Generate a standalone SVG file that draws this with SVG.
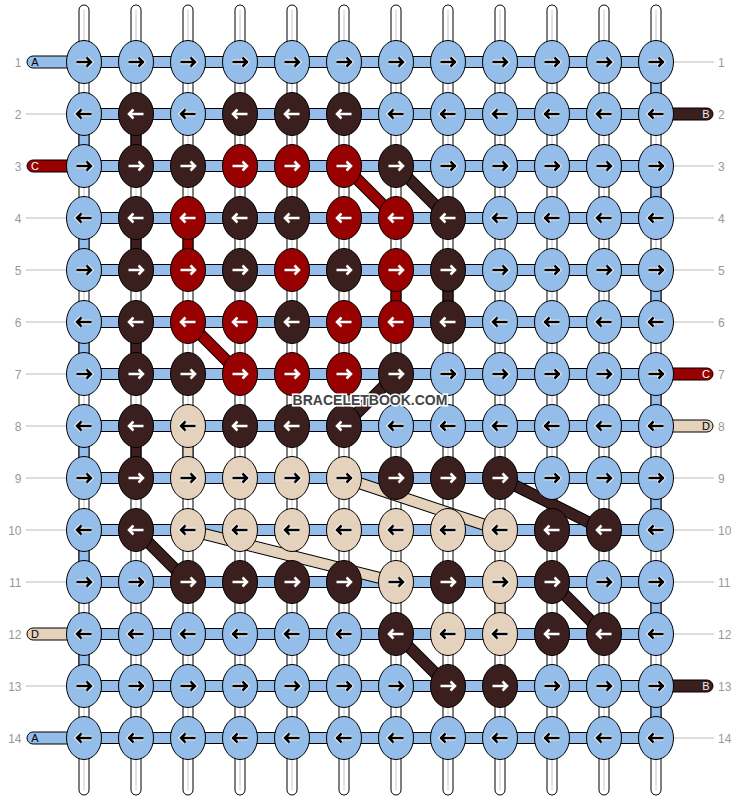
<svg xmlns="http://www.w3.org/2000/svg" xmlns:xlink="http://www.w3.org/1999/xlink" width="740" height="800" viewBox="0 0 740 800">
<style>
.L{fill:#95bde9}.D{fill:#3b1f1f}.R{fill:#990000}.T{fill:#e5d2bc}
ellipse{stroke:#000;stroke-width:1}
.vs{fill:#fff;stroke:#000;stroke-width:1}
.vc{stroke:#c8c8c8;stroke-width:1}
.hb,.seg,.tail{stroke:#000;stroke-width:1}
.ob{stroke:#000;stroke-width:12}
.iD{stroke:#3b1f1f;stroke-width:10}.iR{stroke:#990000;stroke-width:10}.iT{stroke:#e5d2bc;stroke-width:10}
.gl{stroke:#bbb;stroke-width:1}
.num{font-family:"Liberation Sans",Arial,sans-serif;font-size:12px;fill:#999}
.tl{font-family:"Liberation Sans",Arial,sans-serif;font-size:11px;text-anchor:middle}
.wm{font-family:"Liberation Sans",Arial,sans-serif;font-size:14px;font-weight:bold;fill:#444;stroke:#fff;stroke-width:3;paint-order:stroke;text-anchor:middle}
</style>
<defs>
<path id="ap" d="M-7.5,0H6.5M2.5,-4.5L7,0L2.5,4.5" fill="none"/>
<g id="rk"><use href="#ap" stroke="#fff" stroke-width="4.5"/><use href="#ap" stroke="#000" stroke-width="2.5"/></g>
<g id="rw"><use href="#ap" stroke="#fff" stroke-width="2.5"/></g>
<g id="lk" transform="scale(-1,1)"><use href="#ap" stroke="#fff" stroke-width="4.5"/><use href="#ap" stroke="#000" stroke-width="2.5"/></g>
<g id="lw" transform="scale(-1,1)"><use href="#ap" stroke="#fff" stroke-width="2.5"/></g>
</defs>
<g id="strands">
<rect class="vs" x="79" y="5" width="10" height="790" rx="5"/><line class="vc" x1="84" y1="10" x2="84" y2="790"/>
<rect class="vs" x="131" y="5" width="10" height="790" rx="5"/><line class="vc" x1="136" y1="10" x2="136" y2="790"/>
<rect class="vs" x="183" y="5" width="10" height="790" rx="5"/><line class="vc" x1="188" y1="10" x2="188" y2="790"/>
<rect class="vs" x="235" y="5" width="10" height="790" rx="5"/><line class="vc" x1="240" y1="10" x2="240" y2="790"/>
<rect class="vs" x="287" y="5" width="10" height="790" rx="5"/><line class="vc" x1="292" y1="10" x2="292" y2="790"/>
<rect class="vs" x="339" y="5" width="10" height="790" rx="5"/><line class="vc" x1="344" y1="10" x2="344" y2="790"/>
<rect class="vs" x="391" y="5" width="10" height="790" rx="5"/><line class="vc" x1="396" y1="10" x2="396" y2="790"/>
<rect class="vs" x="443" y="5" width="10" height="790" rx="5"/><line class="vc" x1="448" y1="10" x2="448" y2="790"/>
<rect class="vs" x="495" y="5" width="10" height="790" rx="5"/><line class="vc" x1="500" y1="10" x2="500" y2="790"/>
<rect class="vs" x="547" y="5" width="10" height="790" rx="5"/><line class="vc" x1="552" y1="10" x2="552" y2="790"/>
<rect class="vs" x="599" y="5" width="10" height="790" rx="5"/><line class="vc" x1="604" y1="10" x2="604" y2="790"/>
<rect class="vs" x="651" y="5" width="10" height="790" rx="5"/><line class="vc" x1="656" y1="10" x2="656" y2="790"/>
</g>
<g id="connectors">
<rect class="hb L" x="84" y="56.5" width="572" height="11"/>
<rect class="hb L" x="84" y="108.5" width="572" height="11"/>
<rect class="hb L" x="84" y="160.5" width="572" height="11"/>
<rect class="hb L" x="84" y="212.5" width="572" height="11"/>
<rect class="hb L" x="84" y="264.5" width="572" height="11"/>
<rect class="hb L" x="84" y="316.5" width="572" height="11"/>
<rect class="hb L" x="84" y="368.5" width="572" height="11"/>
<rect class="hb L" x="84" y="420.5" width="572" height="11"/>
<rect class="hb L" x="84" y="472.5" width="572" height="11"/>
<rect class="hb L" x="84" y="524.5" width="572" height="11"/>
<rect class="hb L" x="84" y="576.5" width="572" height="11"/>
<rect class="hb L" x="84" y="628.5" width="572" height="11"/>
<rect class="hb L" x="84" y="680.5" width="572" height="11"/>
<rect class="hb L" x="84" y="732.5" width="572" height="11"/>
<rect class="seg L" x="651" y="62" width="10" height="52"/>
<rect class="seg L" x="651" y="166" width="10" height="52"/>
<rect class="seg L" x="651" y="270" width="10" height="52"/>
<rect class="seg L" x="651" y="374" width="10" height="52"/>
<rect class="seg L" x="651" y="478" width="10" height="52"/>
<rect class="seg L" x="651" y="582" width="10" height="52"/>
<rect class="seg L" x="651" y="686" width="10" height="52"/>
<rect class="seg L" x="79" y="114" width="10" height="52"/>
<rect class="seg L" x="79" y="218" width="10" height="52"/>
<rect class="seg L" x="79" y="322" width="10" height="52"/>
<rect class="seg L" x="79" y="426" width="10" height="52"/>
<rect class="seg L" x="79" y="530" width="10" height="52"/>
<rect class="seg L" x="79" y="634" width="10" height="52"/>
<rect class="seg D" x="131" y="114" width="10" height="52"/>
<rect class="seg D" x="131" y="218" width="10" height="52"/>
<rect class="seg D" x="443" y="270" width="10" height="52"/>
<rect class="seg D" x="131" y="322" width="10" height="52"/>
<rect class="seg D" x="131" y="426" width="10" height="52"/>
<rect class="seg R" x="183" y="218" width="10" height="52"/>
<rect class="seg R" x="391" y="270" width="10" height="52"/>
<rect class="seg T" x="183" y="426" width="10" height="52"/>
<rect class="seg T" x="495" y="582" width="10" height="52"/>
<rect class="tail L" x="27" y="56" width="60" height="12" rx="6"/>
<rect class="tail R" x="27" y="160" width="60" height="12" rx="6"/>
<rect class="tail T" x="27" y="628" width="60" height="12" rx="6"/>
<rect class="tail L" x="27" y="732" width="60" height="12" rx="6"/>
<rect class="tail D" x="650" y="108" width="63" height="12" rx="6"/>
<rect class="tail R" x="650" y="368" width="63" height="12" rx="6"/>
<rect class="tail T" x="650" y="420" width="63" height="12" rx="6"/>
<rect class="tail D" x="650" y="680" width="63" height="12" rx="6"/>
<line class="ob" x1="396" y1="166" x2="448" y2="218"/><line class="iD" x1="396" y1="166" x2="448" y2="218"/>
<line class="ob" x1="344" y1="166" x2="396" y2="218"/><line class="iR" x1="344" y1="166" x2="396" y2="218"/>
<line class="ob" x1="188" y1="322" x2="240" y2="374"/><line class="iR" x1="188" y1="322" x2="240" y2="374"/>
<line class="ob" x1="396" y1="374" x2="344" y2="426"/><line class="iD" x1="396" y1="374" x2="344" y2="426"/>
<line class="ob" x1="344" y1="478" x2="500" y2="530"/><line class="iT" x1="344" y1="478" x2="500" y2="530"/>
<line class="ob" x1="500" y1="478" x2="604" y2="530"/><line class="iD" x1="500" y1="478" x2="604" y2="530"/>
<line class="ob" x1="188" y1="530" x2="396" y2="582"/><line class="iT" x1="188" y1="530" x2="396" y2="582"/>
<line class="ob" x1="136" y1="530" x2="188" y2="582"/><line class="iD" x1="136" y1="530" x2="188" y2="582"/>
<line class="ob" x1="552" y1="582" x2="604" y2="634"/><line class="iD" x1="552" y1="582" x2="604" y2="634"/>
<line class="ob" x1="396" y1="634" x2="448" y2="686"/><line class="iD" x1="396" y1="634" x2="448" y2="686"/>
</g>
<g id="knots">
<g id="k1-1"><ellipse class="L" cx="84" cy="62" rx="17.5" ry="21.5"/><use href="#rk" x="84" y="62"/></g>
<g id="k1-2"><ellipse class="L" cx="136" cy="62" rx="17.5" ry="21.5"/><use href="#rk" x="136" y="62"/></g>
<g id="k1-3"><ellipse class="L" cx="188" cy="62" rx="17.5" ry="21.5"/><use href="#rk" x="188" y="62"/></g>
<g id="k1-4"><ellipse class="L" cx="240" cy="62" rx="17.5" ry="21.5"/><use href="#rk" x="240" y="62"/></g>
<g id="k1-5"><ellipse class="L" cx="292" cy="62" rx="17.5" ry="21.5"/><use href="#rk" x="292" y="62"/></g>
<g id="k1-6"><ellipse class="L" cx="344" cy="62" rx="17.5" ry="21.5"/><use href="#rk" x="344" y="62"/></g>
<g id="k1-7"><ellipse class="L" cx="396" cy="62" rx="17.5" ry="21.5"/><use href="#rk" x="396" y="62"/></g>
<g id="k1-8"><ellipse class="L" cx="448" cy="62" rx="17.5" ry="21.5"/><use href="#rk" x="448" y="62"/></g>
<g id="k1-9"><ellipse class="L" cx="500" cy="62" rx="17.5" ry="21.5"/><use href="#rk" x="500" y="62"/></g>
<g id="k1-10"><ellipse class="L" cx="552" cy="62" rx="17.5" ry="21.5"/><use href="#rk" x="552" y="62"/></g>
<g id="k1-11"><ellipse class="L" cx="604" cy="62" rx="17.5" ry="21.5"/><use href="#rk" x="604" y="62"/></g>
<g id="k1-12"><ellipse class="L" cx="656" cy="62" rx="17.5" ry="21.5"/><use href="#rk" x="656" y="62"/></g>

<g id="k2-1"><ellipse class="L" cx="84" cy="114" rx="17.5" ry="21.5"/><use href="#lk" x="84" y="114"/></g>
<g id="k2-2"><ellipse class="D" cx="136" cy="114" rx="17.5" ry="21.5"/><use href="#lw" x="136" y="114"/></g>
<g id="k2-3"><ellipse class="L" cx="188" cy="114" rx="17.5" ry="21.5"/><use href="#lk" x="188" y="114"/></g>
<g id="k2-4"><ellipse class="D" cx="240" cy="114" rx="17.5" ry="21.5"/><use href="#lw" x="240" y="114"/></g>
<g id="k2-5"><ellipse class="D" cx="292" cy="114" rx="17.5" ry="21.5"/><use href="#lw" x="292" y="114"/></g>
<g id="k2-6"><ellipse class="D" cx="344" cy="114" rx="17.5" ry="21.5"/><use href="#lw" x="344" y="114"/></g>
<g id="k2-7"><ellipse class="L" cx="396" cy="114" rx="17.5" ry="21.5"/><use href="#lk" x="396" y="114"/></g>
<g id="k2-8"><ellipse class="L" cx="448" cy="114" rx="17.5" ry="21.5"/><use href="#lk" x="448" y="114"/></g>
<g id="k2-9"><ellipse class="L" cx="500" cy="114" rx="17.5" ry="21.5"/><use href="#lk" x="500" y="114"/></g>
<g id="k2-10"><ellipse class="L" cx="552" cy="114" rx="17.5" ry="21.5"/><use href="#lk" x="552" y="114"/></g>
<g id="k2-11"><ellipse class="L" cx="604" cy="114" rx="17.5" ry="21.5"/><use href="#lk" x="604" y="114"/></g>
<g id="k2-12"><ellipse class="L" cx="656" cy="114" rx="17.5" ry="21.5"/><use href="#lk" x="656" y="114"/></g>

<g id="k3-1"><ellipse class="L" cx="84" cy="166" rx="17.5" ry="21.5"/><use href="#rk" x="84" y="166"/></g>
<g id="k3-2"><ellipse class="D" cx="136" cy="166" rx="17.5" ry="21.5"/><use href="#rw" x="136" y="166"/></g>
<g id="k3-3"><ellipse class="D" cx="188" cy="166" rx="17.5" ry="21.5"/><use href="#rw" x="188" y="166"/></g>
<g id="k3-4"><ellipse class="R" cx="240" cy="166" rx="17.5" ry="21.5"/><use href="#rw" x="240" y="166"/></g>
<g id="k3-5"><ellipse class="R" cx="292" cy="166" rx="17.5" ry="21.5"/><use href="#rw" x="292" y="166"/></g>
<g id="k3-6"><ellipse class="R" cx="344" cy="166" rx="17.5" ry="21.5"/><use href="#rw" x="344" y="166"/></g>
<g id="k3-7"><ellipse class="D" cx="396" cy="166" rx="17.5" ry="21.5"/><use href="#rw" x="396" y="166"/></g>
<g id="k3-8"><ellipse class="L" cx="448" cy="166" rx="17.5" ry="21.5"/><use href="#rk" x="448" y="166"/></g>
<g id="k3-9"><ellipse class="L" cx="500" cy="166" rx="17.5" ry="21.5"/><use href="#rk" x="500" y="166"/></g>
<g id="k3-10"><ellipse class="L" cx="552" cy="166" rx="17.5" ry="21.5"/><use href="#rk" x="552" y="166"/></g>
<g id="k3-11"><ellipse class="L" cx="604" cy="166" rx="17.5" ry="21.5"/><use href="#rk" x="604" y="166"/></g>
<g id="k3-12"><ellipse class="L" cx="656" cy="166" rx="17.5" ry="21.5"/><use href="#rk" x="656" y="166"/></g>

<g id="k4-1"><ellipse class="L" cx="84" cy="218" rx="17.5" ry="21.5"/><use href="#lk" x="84" y="218"/></g>
<g id="k4-2"><ellipse class="D" cx="136" cy="218" rx="17.5" ry="21.5"/><use href="#lw" x="136" y="218"/></g>
<g id="k4-3"><ellipse class="R" cx="188" cy="218" rx="17.5" ry="21.5"/><use href="#lw" x="188" y="218"/></g>
<g id="k4-4"><ellipse class="D" cx="240" cy="218" rx="17.5" ry="21.5"/><use href="#lw" x="240" y="218"/></g>
<g id="k4-5"><ellipse class="D" cx="292" cy="218" rx="17.5" ry="21.5"/><use href="#lw" x="292" y="218"/></g>
<g id="k4-6"><ellipse class="R" cx="344" cy="218" rx="17.5" ry="21.5"/><use href="#lw" x="344" y="218"/></g>
<g id="k4-7"><ellipse class="R" cx="396" cy="218" rx="17.5" ry="21.5"/><use href="#lw" x="396" y="218"/></g>
<g id="k4-8"><ellipse class="D" cx="448" cy="218" rx="17.5" ry="21.5"/><use href="#lw" x="448" y="218"/></g>
<g id="k4-9"><ellipse class="L" cx="500" cy="218" rx="17.5" ry="21.5"/><use href="#lk" x="500" y="218"/></g>
<g id="k4-10"><ellipse class="L" cx="552" cy="218" rx="17.5" ry="21.5"/><use href="#lk" x="552" y="218"/></g>
<g id="k4-11"><ellipse class="L" cx="604" cy="218" rx="17.5" ry="21.5"/><use href="#lk" x="604" y="218"/></g>
<g id="k4-12"><ellipse class="L" cx="656" cy="218" rx="17.5" ry="21.5"/><use href="#lk" x="656" y="218"/></g>

<g id="k5-1"><ellipse class="L" cx="84" cy="270" rx="17.5" ry="21.5"/><use href="#rk" x="84" y="270"/></g>
<g id="k5-2"><ellipse class="D" cx="136" cy="270" rx="17.5" ry="21.5"/><use href="#rw" x="136" y="270"/></g>
<g id="k5-3"><ellipse class="R" cx="188" cy="270" rx="17.5" ry="21.5"/><use href="#rw" x="188" y="270"/></g>
<g id="k5-4"><ellipse class="D" cx="240" cy="270" rx="17.5" ry="21.5"/><use href="#rw" x="240" y="270"/></g>
<g id="k5-5"><ellipse class="R" cx="292" cy="270" rx="17.5" ry="21.5"/><use href="#rw" x="292" y="270"/></g>
<g id="k5-6"><ellipse class="D" cx="344" cy="270" rx="17.5" ry="21.5"/><use href="#rw" x="344" y="270"/></g>
<g id="k5-7"><ellipse class="R" cx="396" cy="270" rx="17.5" ry="21.5"/><use href="#rw" x="396" y="270"/></g>
<g id="k5-8"><ellipse class="D" cx="448" cy="270" rx="17.5" ry="21.5"/><use href="#rw" x="448" y="270"/></g>
<g id="k5-9"><ellipse class="L" cx="500" cy="270" rx="17.5" ry="21.5"/><use href="#rk" x="500" y="270"/></g>
<g id="k5-10"><ellipse class="L" cx="552" cy="270" rx="17.5" ry="21.5"/><use href="#rk" x="552" y="270"/></g>
<g id="k5-11"><ellipse class="L" cx="604" cy="270" rx="17.5" ry="21.5"/><use href="#rk" x="604" y="270"/></g>
<g id="k5-12"><ellipse class="L" cx="656" cy="270" rx="17.5" ry="21.5"/><use href="#rk" x="656" y="270"/></g>

<g id="k6-1"><ellipse class="L" cx="84" cy="322" rx="17.5" ry="21.5"/><use href="#lk" x="84" y="322"/></g>
<g id="k6-2"><ellipse class="D" cx="136" cy="322" rx="17.5" ry="21.5"/><use href="#lw" x="136" y="322"/></g>
<g id="k6-3"><ellipse class="R" cx="188" cy="322" rx="17.5" ry="21.5"/><use href="#lw" x="188" y="322"/></g>
<g id="k6-4"><ellipse class="R" cx="240" cy="322" rx="17.5" ry="21.5"/><use href="#lw" x="240" y="322"/></g>
<g id="k6-5"><ellipse class="D" cx="292" cy="322" rx="17.5" ry="21.5"/><use href="#lw" x="292" y="322"/></g>
<g id="k6-6"><ellipse class="R" cx="344" cy="322" rx="17.5" ry="21.5"/><use href="#lw" x="344" y="322"/></g>
<g id="k6-7"><ellipse class="R" cx="396" cy="322" rx="17.5" ry="21.5"/><use href="#lw" x="396" y="322"/></g>
<g id="k6-8"><ellipse class="D" cx="448" cy="322" rx="17.5" ry="21.5"/><use href="#lw" x="448" y="322"/></g>
<g id="k6-9"><ellipse class="L" cx="500" cy="322" rx="17.5" ry="21.5"/><use href="#lk" x="500" y="322"/></g>
<g id="k6-10"><ellipse class="L" cx="552" cy="322" rx="17.5" ry="21.5"/><use href="#lk" x="552" y="322"/></g>
<g id="k6-11"><ellipse class="L" cx="604" cy="322" rx="17.5" ry="21.5"/><use href="#lk" x="604" y="322"/></g>
<g id="k6-12"><ellipse class="L" cx="656" cy="322" rx="17.5" ry="21.5"/><use href="#lk" x="656" y="322"/></g>

<g id="k7-1"><ellipse class="L" cx="84" cy="374" rx="17.5" ry="21.5"/><use href="#rk" x="84" y="374"/></g>
<g id="k7-2"><ellipse class="D" cx="136" cy="374" rx="17.5" ry="21.5"/><use href="#rw" x="136" y="374"/></g>
<g id="k7-3"><ellipse class="D" cx="188" cy="374" rx="17.5" ry="21.5"/><use href="#rw" x="188" y="374"/></g>
<g id="k7-4"><ellipse class="R" cx="240" cy="374" rx="17.5" ry="21.5"/><use href="#rw" x="240" y="374"/></g>
<g id="k7-5"><ellipse class="R" cx="292" cy="374" rx="17.5" ry="21.5"/><use href="#rw" x="292" y="374"/></g>
<g id="k7-6"><ellipse class="R" cx="344" cy="374" rx="17.5" ry="21.5"/><use href="#rw" x="344" y="374"/></g>
<g id="k7-7"><ellipse class="D" cx="396" cy="374" rx="17.5" ry="21.5"/><use href="#rw" x="396" y="374"/></g>
<g id="k7-8"><ellipse class="L" cx="448" cy="374" rx="17.5" ry="21.5"/><use href="#rk" x="448" y="374"/></g>
<g id="k7-9"><ellipse class="L" cx="500" cy="374" rx="17.5" ry="21.5"/><use href="#rk" x="500" y="374"/></g>
<g id="k7-10"><ellipse class="L" cx="552" cy="374" rx="17.5" ry="21.5"/><use href="#rk" x="552" y="374"/></g>
<g id="k7-11"><ellipse class="L" cx="604" cy="374" rx="17.5" ry="21.5"/><use href="#rk" x="604" y="374"/></g>
<g id="k7-12"><ellipse class="L" cx="656" cy="374" rx="17.5" ry="21.5"/><use href="#rk" x="656" y="374"/></g>

<g id="k8-1"><ellipse class="L" cx="84" cy="426" rx="17.5" ry="21.5"/><use href="#lk" x="84" y="426"/></g>
<g id="k8-2"><ellipse class="D" cx="136" cy="426" rx="17.5" ry="21.5"/><use href="#lw" x="136" y="426"/></g>
<g id="k8-3"><ellipse class="T" cx="188" cy="426" rx="17.5" ry="21.5"/><use href="#lk" x="188" y="426"/></g>
<g id="k8-4"><ellipse class="D" cx="240" cy="426" rx="17.5" ry="21.5"/><use href="#lw" x="240" y="426"/></g>
<g id="k8-5"><ellipse class="D" cx="292" cy="426" rx="17.5" ry="21.5"/><use href="#lw" x="292" y="426"/></g>
<g id="k8-6"><ellipse class="D" cx="344" cy="426" rx="17.5" ry="21.5"/><use href="#lw" x="344" y="426"/></g>
<g id="k8-7"><ellipse class="L" cx="396" cy="426" rx="17.5" ry="21.5"/><use href="#lk" x="396" y="426"/></g>
<g id="k8-8"><ellipse class="L" cx="448" cy="426" rx="17.5" ry="21.5"/><use href="#lk" x="448" y="426"/></g>
<g id="k8-9"><ellipse class="L" cx="500" cy="426" rx="17.5" ry="21.5"/><use href="#lk" x="500" y="426"/></g>
<g id="k8-10"><ellipse class="L" cx="552" cy="426" rx="17.5" ry="21.5"/><use href="#lk" x="552" y="426"/></g>
<g id="k8-11"><ellipse class="L" cx="604" cy="426" rx="17.5" ry="21.5"/><use href="#lk" x="604" y="426"/></g>
<g id="k8-12"><ellipse class="L" cx="656" cy="426" rx="17.5" ry="21.5"/><use href="#lk" x="656" y="426"/></g>

<g id="k9-1"><ellipse class="L" cx="84" cy="478" rx="17.5" ry="21.5"/><use href="#rk" x="84" y="478"/></g>
<g id="k9-2"><ellipse class="D" cx="136" cy="478" rx="17.5" ry="21.5"/><use href="#rw" x="136" y="478"/></g>
<g id="k9-3"><ellipse class="T" cx="188" cy="478" rx="17.5" ry="21.5"/><use href="#rk" x="188" y="478"/></g>
<g id="k9-4"><ellipse class="T" cx="240" cy="478" rx="17.5" ry="21.5"/><use href="#rk" x="240" y="478"/></g>
<g id="k9-5"><ellipse class="T" cx="292" cy="478" rx="17.5" ry="21.5"/><use href="#rk" x="292" y="478"/></g>
<g id="k9-6"><ellipse class="T" cx="344" cy="478" rx="17.5" ry="21.5"/><use href="#rk" x="344" y="478"/></g>
<g id="k9-7"><ellipse class="D" cx="396" cy="478" rx="17.5" ry="21.5"/><use href="#rw" x="396" y="478"/></g>
<g id="k9-8"><ellipse class="D" cx="448" cy="478" rx="17.5" ry="21.5"/><use href="#rw" x="448" y="478"/></g>
<g id="k9-9"><ellipse class="D" cx="500" cy="478" rx="17.5" ry="21.5"/><use href="#rw" x="500" y="478"/></g>
<g id="k9-10"><ellipse class="L" cx="552" cy="478" rx="17.5" ry="21.5"/><use href="#rk" x="552" y="478"/></g>
<g id="k9-11"><ellipse class="L" cx="604" cy="478" rx="17.5" ry="21.5"/><use href="#rk" x="604" y="478"/></g>
<g id="k9-12"><ellipse class="L" cx="656" cy="478" rx="17.5" ry="21.5"/><use href="#rk" x="656" y="478"/></g>

<g id="k10-1"><ellipse class="L" cx="84" cy="530" rx="17.5" ry="21.5"/><use href="#lk" x="84" y="530"/></g>
<g id="k10-2"><ellipse class="D" cx="136" cy="530" rx="17.5" ry="21.5"/><use href="#lw" x="136" y="530"/></g>
<g id="k10-3"><ellipse class="T" cx="188" cy="530" rx="17.5" ry="21.5"/><use href="#lk" x="188" y="530"/></g>
<g id="k10-4"><ellipse class="T" cx="240" cy="530" rx="17.5" ry="21.5"/><use href="#lk" x="240" y="530"/></g>
<g id="k10-5"><ellipse class="T" cx="292" cy="530" rx="17.5" ry="21.5"/><use href="#lk" x="292" y="530"/></g>
<g id="k10-6"><ellipse class="T" cx="344" cy="530" rx="17.5" ry="21.5"/><use href="#lk" x="344" y="530"/></g>
<g id="k10-7"><ellipse class="T" cx="396" cy="530" rx="17.5" ry="21.5"/><use href="#lk" x="396" y="530"/></g>
<g id="k10-8"><ellipse class="T" cx="448" cy="530" rx="17.5" ry="21.5"/><use href="#lk" x="448" y="530"/></g>
<g id="k10-9"><ellipse class="T" cx="500" cy="530" rx="17.5" ry="21.5"/><use href="#lk" x="500" y="530"/></g>
<g id="k10-10"><ellipse class="D" cx="552" cy="530" rx="17.5" ry="21.5"/><use href="#lw" x="552" y="530"/></g>
<g id="k10-11"><ellipse class="D" cx="604" cy="530" rx="17.5" ry="21.5"/><use href="#lw" x="604" y="530"/></g>
<g id="k10-12"><ellipse class="L" cx="656" cy="530" rx="17.5" ry="21.5"/><use href="#lk" x="656" y="530"/></g>

<g id="k11-1"><ellipse class="L" cx="84" cy="582" rx="17.5" ry="21.5"/><use href="#rk" x="84" y="582"/></g>
<g id="k11-2"><ellipse class="L" cx="136" cy="582" rx="17.5" ry="21.5"/><use href="#rk" x="136" y="582"/></g>
<g id="k11-3"><ellipse class="D" cx="188" cy="582" rx="17.5" ry="21.5"/><use href="#rw" x="188" y="582"/></g>
<g id="k11-4"><ellipse class="D" cx="240" cy="582" rx="17.5" ry="21.5"/><use href="#rw" x="240" y="582"/></g>
<g id="k11-5"><ellipse class="D" cx="292" cy="582" rx="17.5" ry="21.5"/><use href="#rw" x="292" y="582"/></g>
<g id="k11-6"><ellipse class="D" cx="344" cy="582" rx="17.5" ry="21.5"/><use href="#rw" x="344" y="582"/></g>
<g id="k11-7"><ellipse class="T" cx="396" cy="582" rx="17.5" ry="21.5"/><use href="#rk" x="396" y="582"/></g>
<g id="k11-8"><ellipse class="D" cx="448" cy="582" rx="17.5" ry="21.5"/><use href="#rw" x="448" y="582"/></g>
<g id="k11-9"><ellipse class="T" cx="500" cy="582" rx="17.5" ry="21.5"/><use href="#rk" x="500" y="582"/></g>
<g id="k11-10"><ellipse class="D" cx="552" cy="582" rx="17.5" ry="21.5"/><use href="#rw" x="552" y="582"/></g>
<g id="k11-11"><ellipse class="L" cx="604" cy="582" rx="17.5" ry="21.5"/><use href="#rk" x="604" y="582"/></g>
<g id="k11-12"><ellipse class="L" cx="656" cy="582" rx="17.5" ry="21.5"/><use href="#rk" x="656" y="582"/></g>

<g id="k12-1"><ellipse class="L" cx="84" cy="634" rx="17.5" ry="21.5"/><use href="#lk" x="84" y="634"/></g>
<g id="k12-2"><ellipse class="L" cx="136" cy="634" rx="17.5" ry="21.5"/><use href="#lk" x="136" y="634"/></g>
<g id="k12-3"><ellipse class="L" cx="188" cy="634" rx="17.5" ry="21.5"/><use href="#lk" x="188" y="634"/></g>
<g id="k12-4"><ellipse class="L" cx="240" cy="634" rx="17.5" ry="21.5"/><use href="#lk" x="240" y="634"/></g>
<g id="k12-5"><ellipse class="L" cx="292" cy="634" rx="17.5" ry="21.5"/><use href="#lk" x="292" y="634"/></g>
<g id="k12-6"><ellipse class="L" cx="344" cy="634" rx="17.5" ry="21.5"/><use href="#lk" x="344" y="634"/></g>
<g id="k12-7"><ellipse class="D" cx="396" cy="634" rx="17.5" ry="21.5"/><use href="#lw" x="396" y="634"/></g>
<g id="k12-8"><ellipse class="T" cx="448" cy="634" rx="17.5" ry="21.5"/><use href="#lk" x="448" y="634"/></g>
<g id="k12-9"><ellipse class="T" cx="500" cy="634" rx="17.5" ry="21.5"/><use href="#lk" x="500" y="634"/></g>
<g id="k12-10"><ellipse class="D" cx="552" cy="634" rx="17.5" ry="21.5"/><use href="#lw" x="552" y="634"/></g>
<g id="k12-11"><ellipse class="D" cx="604" cy="634" rx="17.5" ry="21.5"/><use href="#lw" x="604" y="634"/></g>
<g id="k12-12"><ellipse class="L" cx="656" cy="634" rx="17.5" ry="21.5"/><use href="#lk" x="656" y="634"/></g>

<g id="k13-1"><ellipse class="L" cx="84" cy="686" rx="17.5" ry="21.5"/><use href="#rk" x="84" y="686"/></g>
<g id="k13-2"><ellipse class="L" cx="136" cy="686" rx="17.5" ry="21.5"/><use href="#rk" x="136" y="686"/></g>
<g id="k13-3"><ellipse class="L" cx="188" cy="686" rx="17.5" ry="21.5"/><use href="#rk" x="188" y="686"/></g>
<g id="k13-4"><ellipse class="L" cx="240" cy="686" rx="17.5" ry="21.5"/><use href="#rk" x="240" y="686"/></g>
<g id="k13-5"><ellipse class="L" cx="292" cy="686" rx="17.5" ry="21.5"/><use href="#rk" x="292" y="686"/></g>
<g id="k13-6"><ellipse class="L" cx="344" cy="686" rx="17.5" ry="21.5"/><use href="#rk" x="344" y="686"/></g>
<g id="k13-7"><ellipse class="L" cx="396" cy="686" rx="17.5" ry="21.5"/><use href="#rk" x="396" y="686"/></g>
<g id="k13-8"><ellipse class="D" cx="448" cy="686" rx="17.5" ry="21.5"/><use href="#rw" x="448" y="686"/></g>
<g id="k13-9"><ellipse class="D" cx="500" cy="686" rx="17.5" ry="21.5"/><use href="#rw" x="500" y="686"/></g>
<g id="k13-10"><ellipse class="L" cx="552" cy="686" rx="17.5" ry="21.5"/><use href="#rk" x="552" y="686"/></g>
<g id="k13-11"><ellipse class="L" cx="604" cy="686" rx="17.5" ry="21.5"/><use href="#rk" x="604" y="686"/></g>
<g id="k13-12"><ellipse class="L" cx="656" cy="686" rx="17.5" ry="21.5"/><use href="#rk" x="656" y="686"/></g>

<g id="k14-1"><ellipse class="L" cx="84" cy="738" rx="17.5" ry="21.5"/><use href="#lk" x="84" y="738"/></g>
<g id="k14-2"><ellipse class="L" cx="136" cy="738" rx="17.5" ry="21.5"/><use href="#lk" x="136" y="738"/></g>
<g id="k14-3"><ellipse class="L" cx="188" cy="738" rx="17.5" ry="21.5"/><use href="#lk" x="188" y="738"/></g>
<g id="k14-4"><ellipse class="L" cx="240" cy="738" rx="17.5" ry="21.5"/><use href="#lk" x="240" y="738"/></g>
<g id="k14-5"><ellipse class="L" cx="292" cy="738" rx="17.5" ry="21.5"/><use href="#lk" x="292" y="738"/></g>
<g id="k14-6"><ellipse class="L" cx="344" cy="738" rx="17.5" ry="21.5"/><use href="#lk" x="344" y="738"/></g>
<g id="k14-7"><ellipse class="L" cx="396" cy="738" rx="17.5" ry="21.5"/><use href="#lk" x="396" y="738"/></g>
<g id="k14-8"><ellipse class="L" cx="448" cy="738" rx="17.5" ry="21.5"/><use href="#lk" x="448" y="738"/></g>
<g id="k14-9"><ellipse class="L" cx="500" cy="738" rx="17.5" ry="21.5"/><use href="#lk" x="500" y="738"/></g>
<g id="k14-10"><ellipse class="L" cx="552" cy="738" rx="17.5" ry="21.5"/><use href="#lk" x="552" y="738"/></g>
<g id="k14-11"><ellipse class="L" cx="604" cy="738" rx="17.5" ry="21.5"/><use href="#lk" x="604" y="738"/></g>
<g id="k14-12"><ellipse class="L" cx="656" cy="738" rx="17.5" ry="21.5"/><use href="#lk" x="656" y="738"/></g>
</g>
<g id="labels">
<line class="gl" x1="26" y1="114" x2="66" y2="114"/>
<line class="gl" x1="26" y1="218" x2="66" y2="218"/>
<line class="gl" x1="26" y1="270" x2="66" y2="270"/>
<line class="gl" x1="26" y1="322" x2="66" y2="322"/>
<line class="gl" x1="26" y1="374" x2="66" y2="374"/>
<line class="gl" x1="26" y1="426" x2="66" y2="426"/>
<line class="gl" x1="26" y1="478" x2="66" y2="478"/>
<line class="gl" x1="26" y1="530" x2="66" y2="530"/>
<line class="gl" x1="26" y1="582" x2="66" y2="582"/>
<line class="gl" x1="26" y1="686" x2="66" y2="686"/>
<line class="gl" x1="674" y1="62" x2="714" y2="62"/>
<line class="gl" x1="674" y1="166" x2="714" y2="166"/>
<line class="gl" x1="674" y1="218" x2="714" y2="218"/>
<line class="gl" x1="674" y1="270" x2="714" y2="270"/>
<line class="gl" x1="674" y1="322" x2="714" y2="322"/>
<line class="gl" x1="674" y1="478" x2="714" y2="478"/>
<line class="gl" x1="674" y1="530" x2="714" y2="530"/>
<line class="gl" x1="674" y1="582" x2="714" y2="582"/>
<line class="gl" x1="674" y1="634" x2="714" y2="634"/>
<line class="gl" x1="674" y1="738" x2="714" y2="738"/>
<text class="tl" x="35" y="66" fill="#000">A</text>
<text class="tl" x="35" y="170" fill="#fff">C</text>
<text class="tl" x="35" y="638" fill="#000">D</text>
<text class="tl" x="35" y="742" fill="#000">A</text>
<text class="tl" x="706" y="118" fill="#eee">B</text>
<text class="tl" x="706" y="378" fill="#fff">C</text>
<text class="tl" x="706" y="430" fill="#000">D</text>
<text class="tl" x="706" y="690" fill="#eee">B</text>
<g text-anchor="end">
<text class="num" x="21.5" y="66.5">1</text>
<text class="num" x="21.5" y="118.5">2</text>
<text class="num" x="21.5" y="170.5">3</text>
<text class="num" x="21.5" y="222.5">4</text>
<text class="num" x="21.5" y="274.5">5</text>
<text class="num" x="21.5" y="326.5">6</text>
<text class="num" x="21.5" y="378.5">7</text>
<text class="num" x="21.5" y="430.5">8</text>
<text class="num" x="21.5" y="482.5">9</text>
<text class="num" x="21.5" y="534.5">10</text>
<text class="num" x="21.5" y="586.5">11</text>
<text class="num" x="21.5" y="638.5">12</text>
<text class="num" x="21.5" y="690.5">13</text>
<text class="num" x="21.5" y="742.5">14</text>
</g>
<text class="num" x="718" y="66.5">1</text>
<text class="num" x="718" y="118.5">2</text>
<text class="num" x="718" y="170.5">3</text>
<text class="num" x="718" y="222.5">4</text>
<text class="num" x="718" y="274.5">5</text>
<text class="num" x="718" y="326.5">6</text>
<text class="num" x="718" y="378.5">7</text>
<text class="num" x="718" y="430.5">8</text>
<text class="num" x="718" y="482.5">9</text>
<text class="num" x="718" y="534.5">10</text>
<text class="num" x="718" y="586.5">11</text>
<text class="num" x="718" y="638.5">12</text>
<text class="num" x="718" y="690.5">13</text>
<text class="num" x="718" y="742.5">14</text>
<text class="wm" x="370" y="405">BRACELETBOOK.COM</text>
</g>
</svg>
